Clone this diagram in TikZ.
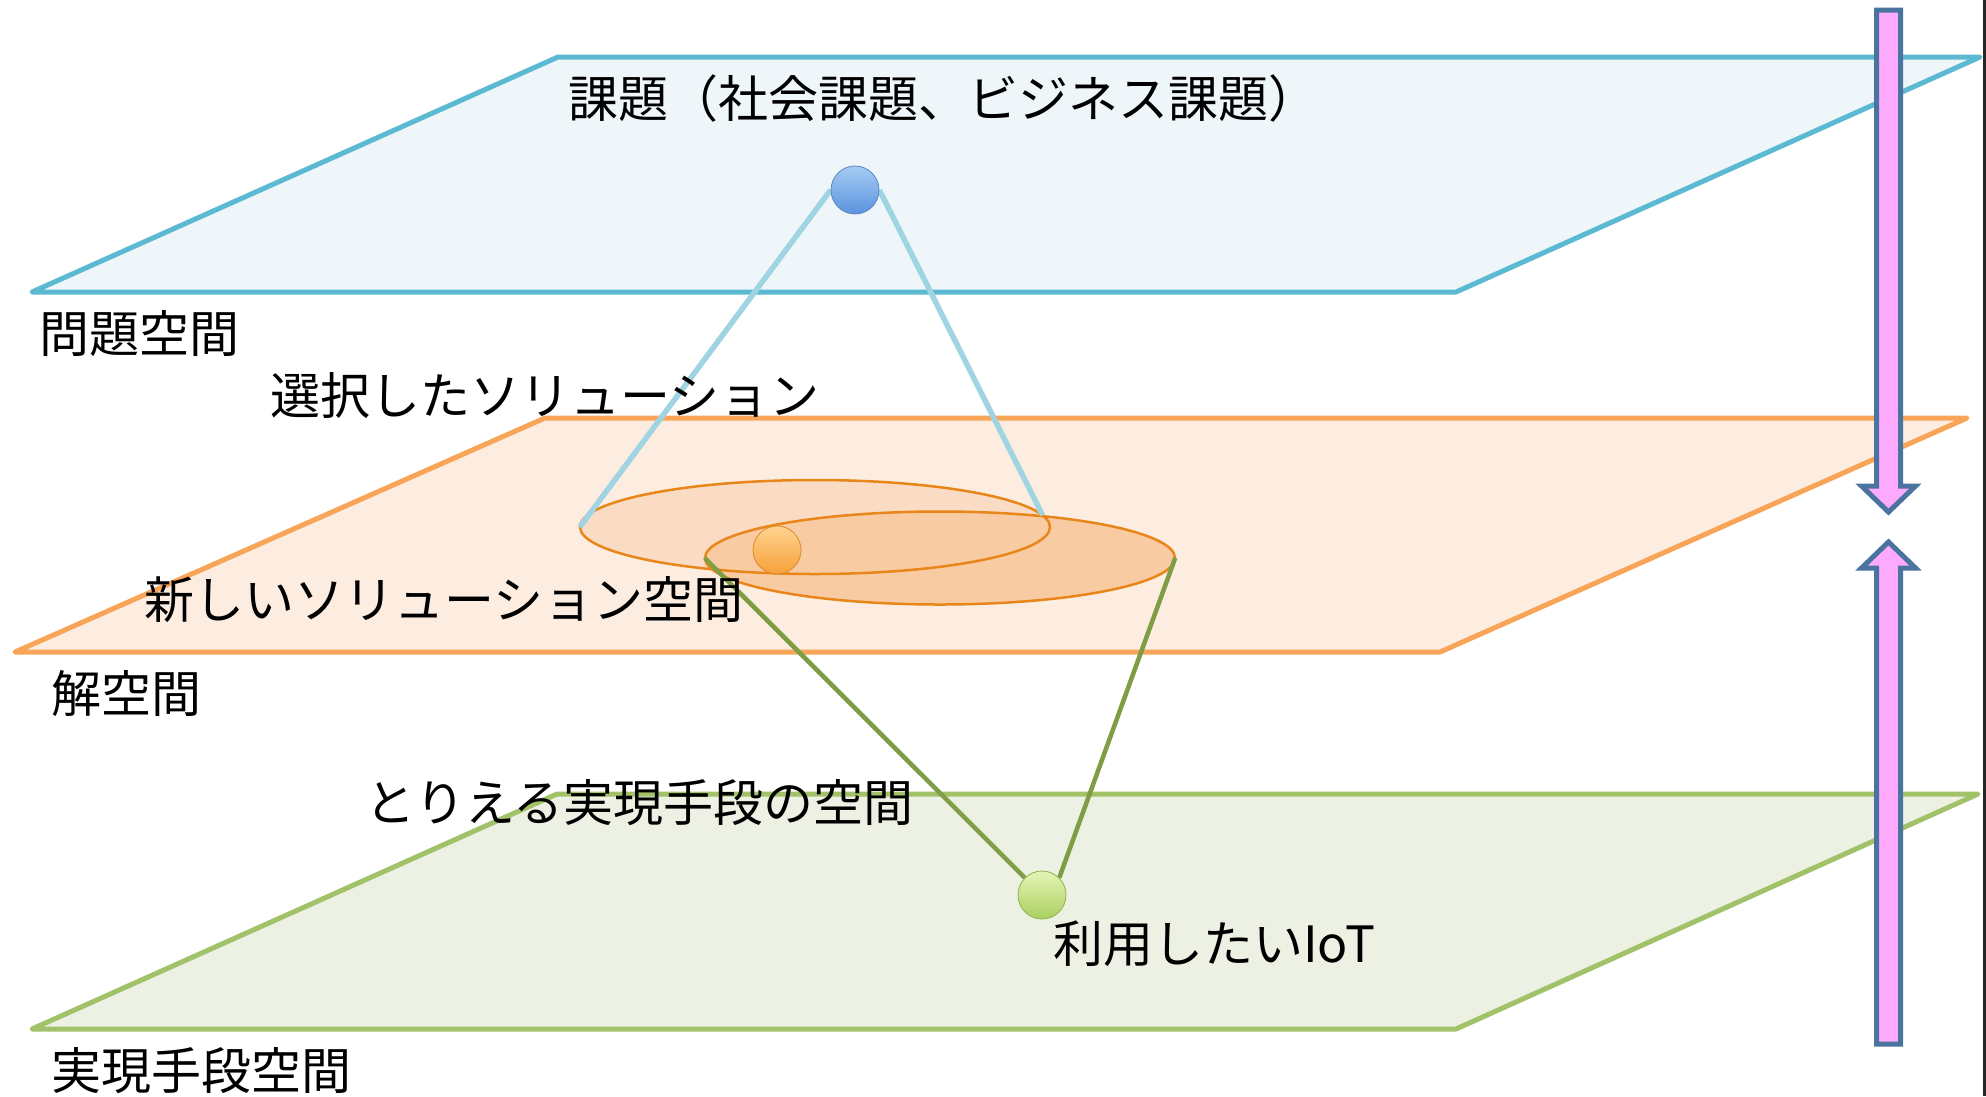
\documentclass[tikz,border=0pt]{standalone}
\usepackage{fontspec}
\setmainfont{Noto Sans CJK JP}
\usetikzlibrary{shapes.geometric}
\definecolor{topline}{HTML}{5BB9D1}
\definecolor{topfill}{HTML}{EEF6FA}
\definecolor{midline}{HTML}{F8A55A}
\definecolor{midfill}{HTML}{FDEDE0}
\definecolor{lowline}{HTML}{A2C26A}
\definecolor{lowfill}{HTML}{EDF1E3}
\definecolor{eonefill}{HTML}{FADBC3}
\definecolor{etwofill}{HTML}{F9CBA2}
\definecolor{estroke}{HTML}{E8861A}
\definecolor{blueln}{HTML}{A0D4E2}
\definecolor{greenln}{HTML}{7E9D45}
\definecolor{arrfill}{HTML}{FDAAFC}
\definecolor{arrline}{HTML}{4A73A0}
\definecolor{bbtop}{HTML}{A6CBF3}
\definecolor{bbbot}{HTML}{5B93DE}
\definecolor{bbdraw}{HTML}{5A86C4}
\definecolor{obtop}{HTML}{FFD390}
\definecolor{obbot}{HTML}{F7A03A}
\definecolor{obdraw}{HTML}{D98B2C}
\definecolor{gbtop}{HTML}{E6F5B6}
\definecolor{gbbot}{HTML}{AACF60}
\definecolor{gbdraw}{HTML}{8DB24E}
\pgfdeclarelayer{back}
\pgfdeclarelayer{mid}
\pgfsetlayers{back,mid,main}
\begin{document}
\begin{tikzpicture}[x=1pt,y=-1pt,
  plane/.style={line width=5pt, line join=round},
  eoutline/.style={draw=estroke, line width=2.5pt},
  blueline/.style={draw=blueln, line width=5.5pt},
  greenline/.style={draw=greenln, line width=4.5pt},
  ballnode/.style={circle, minimum size=48pt, inner sep=0pt, line width=0.8pt},
  blockarrow/.style={draw=arrline, fill=arrfill, line width=5pt, line join=miter},
  txt/.style={anchor=west, inner sep=0pt, font=\fontsize{50}{58}\selectfont}]
\useasboundingbox (0,0) rectangle (1986,1096);

\begin{pgfonlayer}{back}
\fill[white] (0,0) rectangle (1986,1096);
\draw[plane, draw=topline, fill=topfill] (558,57) -- (1980,57) -- (1456,292) -- (32,292) -- cycle;
\draw[plane, draw=midline, fill=midfill] (545,418) -- (1967,418) -- (1440,652) -- (15,652) -- cycle;
\draw[plane, draw=lowline, fill=lowfill] (557,794) -- (1978,794) -- (1456,1029) -- (32,1029) -- cycle;
\node[ellipse, minimum width=470pt, minimum height=94pt, inner sep=0pt, fill=eonefill] (e1) at (815,527) {};
\node[ellipse, minimum width=470pt, minimum height=93pt, inner sep=0pt, fill=etwofill] (e2) at (940,558) {};
\draw[eoutline] (e1.center) ellipse [x radius=235pt, y radius=47pt];
\draw[eoutline] (e2.center) ellipse [x radius=235pt, y radius=46.5pt];
\end{pgfonlayer}

\node[ballnode, draw=bbdraw, top color=bbtop, bottom color=bbbot] (bball) at (855,190) {};
\node[ballnode, draw=obdraw, top color=obtop, bottom color=obbot] (oball) at (777,550) {};
\node[ballnode, draw=gbdraw, top color=gbtop, bottom color=gbbot] (gball) at (1042,895) {};

\begin{pgfonlayer}{mid}
\draw[blueline] (bball.west) -- (e1.west);
\draw[blueline] (bball.east) -- (e1.3);
\draw[greenline] (e2.west) -- (gball.north west);
\draw[greenline] (e2.east) -- (gball.north east);
\end{pgfonlayer}

\node[txt] (t1) at (568,98) {課題（社会課題、ビジネス課題）};
\node[txt] (t2) at (39,334) {問題空間};
\node[txt] (t3) at (270,396) {選択したソリューション};
\node[txt] (t4) at (144,600) {新しいソリューション空間};
\node[txt] (t5) at (51,694) {解空間};
\node[txt] (t6) at (365,803) {とりえる実現手段の空間};
\node[txt] (t7) at (1053,944) {利用したいIoT};
\node[txt] (t8) at (51,1071) {実現手段空間};

\draw[blockarrow] (1876.5,10) -- (1900.5,10) -- (1900.5,486) -- (1915.5,486) -- (1888.5,512) -- (1861.5,486) -- (1876.5,486) -- cycle;
\draw[blockarrow] (1888.5,542) -- (1915.5,568) -- (1900.5,568) -- (1900.5,1044) -- (1876.5,1044) -- (1876.5,568) -- (1861.5,568) -- cycle;

\draw[line width=3pt, black!85] (1984.5,0) -- (1984.5,1096);
\end{tikzpicture}
\end{document}
